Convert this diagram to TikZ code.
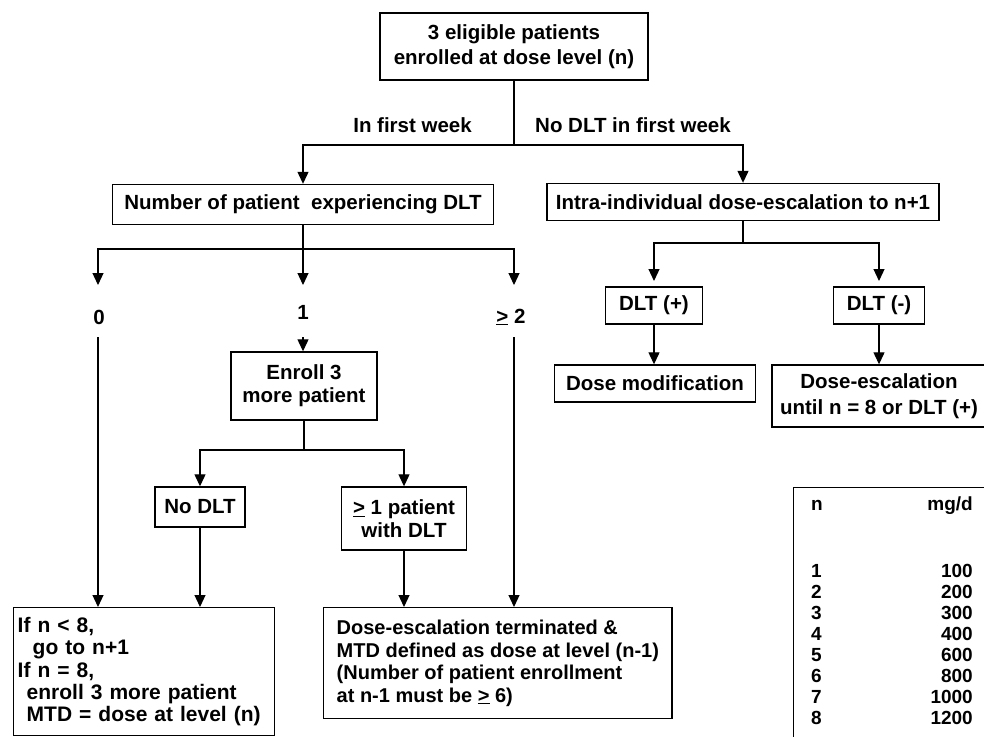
\documentclass[tikz,border=0pt]{standalone}
\usepackage{fontspec}
\setmainfont{Liberation Sans}
\usetikzlibrary{arrows.meta}
\begin{document}
\begin{tikzpicture}[x=1pt,y=-1pt,
  box/.style={draw, line width=1.4pt, inner sep=0pt, align=center,
    font=\bfseries\fontsize{20.5}{23}\selectfont},
  lbl/.style={inner sep=0pt, font=\bfseries\fontsize{20.5}{23}\selectfont},
  tx/.style={inner sep=0pt, font=\bfseries\fontsize{19}{21}\selectfont},
  conn/.style={line width=1.2pt},
  arr/.style={line width=1.2pt, -{Triangle[length=12pt,width=11pt]}}]
\useasboundingbox (0,0) rectangle (984,736);

% top
\node[box, line width=2.2pt, minimum width=268pt, minimum height=67pt,
  font=\bfseries\fontsize{20.5}{25}\selectfont] (top) at (514,46.5)
  {3 eligible patients\\enrolled at dose level (n)};
\node[lbl, anchor=east] (wk1) at (472,125) {In first week};
\node[lbl, anchor=west] (wk2) at (535,125) {No DLT in first week};

\node[box, minimum width=381pt, minimum height=40pt] (num) at (303,204.5)
  {Number of patient\ \ experiencing DLT};
\node[box, minimum width=392pt, minimum height=37pt] (intra) at (743,202)
  {Intra-individual dose-escalation to n+1};

\coordinate (j1) at (514,145);
\draw[conn] (top.south) -- (j1);
\draw[arr] (j1) -| (num.north);
\draw[arr] (j1) -| (intra.north);

% number branch
\coordinate (j2) at (303,249);
\coordinate (t0) at (98,285);
\coordinate (t1) at (303,285);
\coordinate (t2) at (514,285);
\draw[conn] (num.south) -- (j2);
\draw[arr] (j2) -| (t0);
\draw[arr] (j2) -- (t1);
\draw[arr] (j2) -| (t2);
\node[lbl] (l0) at (99,317) {0};
\node[lbl] (l1) at (303,312) {1};
\node[lbl] (l2) at (511,317) {\underline{>} 2};
\coordinate (s0) at (98,337);
\coordinate (s1) at (303,337);
\coordinate (s2) at (514,337);

% enroll
\node[box, minimum width=146pt, minimum height=68pt] (enroll) at (304,386)
  {Enroll 3\\more patient};
\draw[arr] (s1) -- (s1 |- enroll.north);
\coordinate (j3) at (304,450);
\draw[conn] (enroll.south) -- (j3);
\node[box, minimum width=90pt, minimum height=40pt] (nodlt) at (200,507) {No DLT};
\node[box, minimum width=125pt, minimum height=63pt] (ge1) at (404,518.5)
  {\underline{>} 1 patient\\with DLT};
\draw[arr] (j3) -| (nodlt.north);
\draw[arr] (j3) -| (ge1.north);

% bottom boxes
\node[box, anchor=north west, text width=253pt, inner xsep=4pt, inner ysep=0pt,
  minimum height=128pt, align=left,
  font=\bfseries\fontsize{21}{22.2}\selectfont] (ifbox) at (13,607)
  {If n < 8,\\\hspace*{15pt}go to n+1\\If n = 8,\\\hspace*{9pt}enroll 3 more patient\\\hspace*{9pt}MTD = dose at level (n)};
\node[box, anchor=north west, inner xsep=13pt, inner ysep=0pt,
  minimum height=111pt, align=left,
  font=\bfseries\fontsize{20}{22.5}\selectfont] (term) at (323,607)
  {Dose-escalation terminated \&\\MTD defined as dose at level (n-1)\\(Number of patient enrollment\\at n-1 must be \underline{>} 6)};
\draw[arr] (s0) -- (s0 |- ifbox.north);
\draw[arr] (nodlt.south) -- (nodlt.south |- ifbox.north);
\draw[arr] (ge1.south) -- (ge1.south |- term.north);
\draw[arr] (s2) -- (s2 |- term.north);

% intra branch
\coordinate (j4) at (743,243);
\coordinate (tp) at (654,281);
\coordinate (tm) at (879,281);
\draw[conn] (intra.south) -- (j4);
\draw[arr] (j4) -| (tp);
\draw[arr] (j4) -| (tm);
\node[box, minimum width=97pt, minimum height=37pt] (dplus) at (654,305.5) {DLT (+)};
\node[box, minimum width=91pt, minimum height=37pt] (dminus) at (879,305.5) {DLT (-)};
\node[box, minimum width=201pt, minimum height=37pt] (dmod) at (655,383.5) {Dose modification};
\node[box, minimum width=214pt, minimum height=62pt,
  font=\bfseries\fontsize{20.5}{26}\selectfont] (desc) at (879,396)
  {Dose-escalation\\until n = 8 or DLT (+)};
\draw[arr] (dplus.south) -- (dplus.south |- dmod.north);
\draw[arr] (dminus.south) -- (dminus.south |- desc.north);

% table
\node[draw, line width=1.2pt, anchor=north west, minimum width=220pt,
  minimum height=270pt, inner sep=0pt] (tbl) at (793,487) {};
\node[tx, anchor=base west] (hn) at (811,510) {n};
\node[tx, anchor=base east] (hmg) at (973,510) {mg/d};
\foreach \k/\v in {1/100,2/200,3/300,4/400,5/600,6/800,7/1000,8/1200}{
  \node[tx, anchor=base west] (n\k) at (811,{577+21*(\k-1)}) {\k};
  \node[tx, anchor=base east] (v\k) at (973,{577+21*(\k-1)}) {\v};
}
\end{tikzpicture}
\end{document}
